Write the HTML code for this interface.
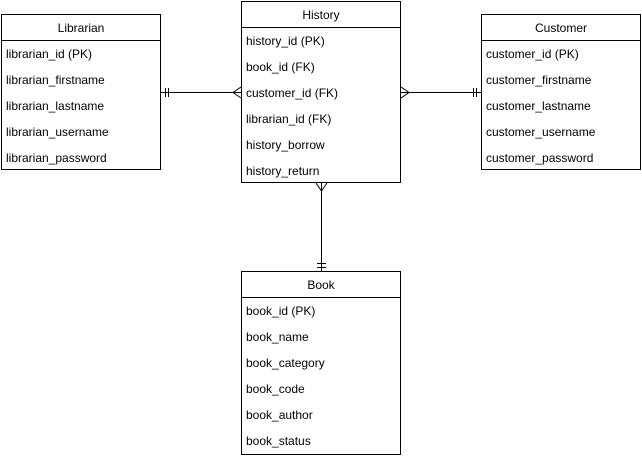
<!DOCTYPE html>
<html><head><style>
body{margin:0;background:#fff;width:642px;height:456px;overflow:hidden;font-family:"Liberation Sans",Arial,sans-serif;font-size:12px;color:#000}
</style></head><body>
<svg width="642" height="456" xmlns="http://www.w3.org/2000/svg" style="position:absolute;left:0;top:0" font-family="Liberation Sans, Arial, sans-serif" font-size="12">
<g fill="#fff" stroke="#000" stroke-width="1">
<rect x="1.5" y="14.5" width="159" height="155"/>
<line x1="1" y1="40.5" x2="161" y2="40.5"/>
<rect x="241.5" y="1.5" width="159" height="181"/>
<line x1="241" y1="27.5" x2="401" y2="27.5"/>
<rect x="481.5" y="14.5" width="159" height="155"/>
<line x1="481" y1="40.5" x2="641" y2="40.5"/>
<rect x="241.5" y="271.5" width="159" height="183"/>
<line x1="241" y1="297.5" x2="401" y2="297.5"/>
</g>
<g stroke="#000" stroke-width="1" fill="none">
<line x1="161" y1="92.5" x2="241" y2="92.5"/>
<line x1="165.5" y1="88" x2="165.5" y2="97"/><line x1="168.5" y1="88" x2="168.5" y2="97"/>
<polyline points="241,87 233,92.5 241,98"/>
<line x1="401" y1="92.5" x2="481" y2="92.5"/>
<line x1="473.5" y1="88" x2="473.5" y2="97"/><line x1="476.5" y1="88" x2="476.5" y2="97"/>
<polyline points="401,87 409,92.5 401,98"/>
<line x1="321.5" y1="183" x2="321.5" y2="271"/>
<polyline points="316,183 321.5,191 327,183"/>
<line x1="317" y1="263.5" x2="326" y2="263.5"/><line x1="317" y1="267.5" x2="326" y2="267.5"/>
</g>
<g fill="#000">
<text x="81" y="32" text-anchor="middle">Librarian</text>
<text x="6" y="58">librarian_id (PK)</text>
<text x="6" y="84">librarian_firstname</text>
<text x="6" y="110">librarian_lastname</text>
<text x="6" y="136">librarian_username</text>
<text x="6" y="162">librarian_password</text>
<text x="321" y="19" text-anchor="middle">History</text>
<text x="246" y="45">history_id (PK)</text>
<text x="246" y="71">book_id (FK)</text>
<text x="246" y="97">customer_id (FK)</text>
<text x="246" y="123">librarian_id (FK)</text>
<text x="246" y="149">history_borrow</text>
<text x="246" y="175">history_return</text>
<text x="561" y="32" text-anchor="middle">Customer</text>
<text x="486" y="58">customer_id (PK)</text>
<text x="486" y="84">customer_firstname</text>
<text x="486" y="110">customer_lastname</text>
<text x="486" y="136">customer_username</text>
<text x="486" y="162">customer_password</text>
<text x="321" y="289" text-anchor="middle">Book</text>
<text x="246" y="315">book_id (PK)</text>
<text x="246" y="341">book_name</text>
<text x="246" y="367">book_category</text>
<text x="246" y="393">book_code</text>
<text x="246" y="419">book_author</text>
<text x="246" y="445">book_status</text>
</g>
</svg>
</body></html>
